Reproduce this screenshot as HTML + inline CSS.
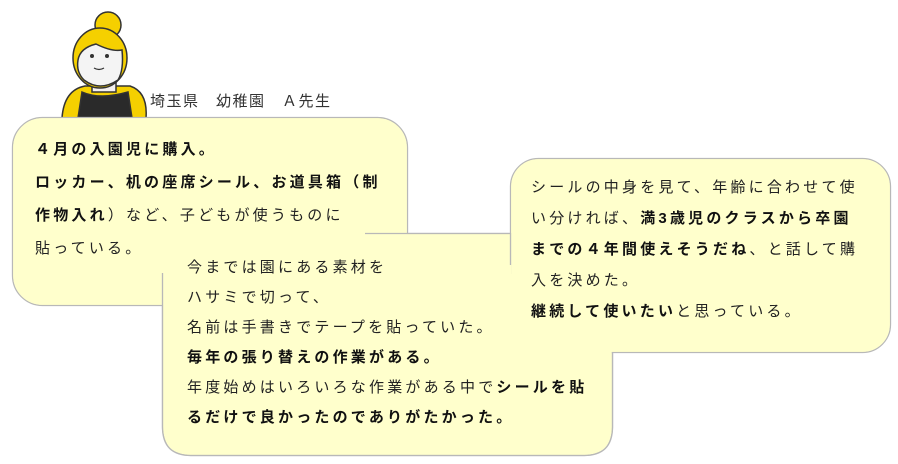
<!DOCTYPE html>
<html><head><meta charset="utf-8"><style>
html,body{margin:0;padding:0;background:#fff;}
body{width:898px;height:464px;position:relative;overflow:hidden;font-family:"Liberation Sans","Noto Sans CJK JP",sans-serif;color:#222;}
.t{position:absolute;font-size:15px;letter-spacing:3.2px;white-space:nowrap;}
b{font-weight:bold;color:#111;}
</style></head><body>
<svg width="898" height="464" style="position:absolute;left:0;top:0">
  <g stroke="#333" stroke-width="1.5">
    <circle cx="108" cy="25" r="13" fill="#f5d000"/>
    <path d="M62 118 Q64 90 85 86 L130 86 Q148 92 146 118 Z" fill="#f5d000"/>
    <path d="M78 118 L82 92 Q100 100 128 92 L132 118 Z" fill="#2a2a2a"/>
    <path d="M92 80 L92 92 L116 92 L116 80 Z" fill="#f4f0f0"/>
    <ellipse cx="100" cy="58" rx="27" ry="30" fill="#f5d000"/>
    <path d="M78 60 Q80 48 96 44 Q112 52 122 50 Q124 70 118 80 Q100 92 84 80 Q76 72 78 60 Z" fill="#f4f4f4"/>
  </g>
  <circle cx="92" cy="56" r="2" fill="#333"/><circle cx="107" cy="56" r="2" fill="#333"/>
  <path d="M94 68 Q99 71 104 68" stroke="#333" fill="none" stroke-width="1.2"/>
  <g fill="#ffffcc" stroke="#b8b8b8" stroke-width="1.3">
    <rect x="12.5" y="117.5" width="395" height="188" rx="30"/>
    <rect x="162.5" y="233.5" width="450" height="222" rx="28"/>
    <rect x="510.5" y="158.5" width="380" height="194" rx="28"/>
  </g>
  <g fill="#ffffcc">
    <rect x="13.2" y="118.2" width="393.6" height="186.6" rx="29"/>
    <rect x="511.2" y="159.2" width="378.6" height="192.6" rx="27"/>
    <path d="M163.2 274 L611.8 274 L611.8 427 Q611.8 454.8 584 454.8 L191 454.8 Q163.2 454.8 163.2 427 Z"/>
    <rect x="365" y="234.2" width="146" height="41"/>
  </g>
  <g stroke="#b8b8b8" stroke-width="1.3" fill="none">
    <path d="M365 233.5 L510.5 233.5 L510.5 265"/>
    <path d="M162.5 273 L162.5 427 Q162.5 455.5 191 455.5 L584 455.5 Q612.5 455.5 612.5 427 L612.5 352"/>
  </g>
</svg>
<div class="t" style="left:150px;top:90px;font-size:15px;letter-spacing:1.5px;color:#333">埼玉県　幼稚園　Ａ先生</div>
<div class="t" style="left:35px;top:133px;line-height:33px"><b>４月の入園児に購入。</b><br><b>ロッカー、机の座席シール、お道具箱（制</b><br><b>作物入れ</b>）など、子どもが使うものに<br>貼っている。</div>
<div class="t" style="left:187px;top:253px;line-height:30px">今までは園にある素材を<br>ハサミで切って、<br>名前は手書きでテープを貼っていた。<br><b>毎年の張り替えの作業がある。</b><br>年度始めはいろいろな作業がある中で<b>シールを貼</b><br><b>るだけで良かったのでありがたかった。</b></div>
<div class="t" style="left:531px;top:172px;line-height:31px">シールの中身を見て、年齢に合わせて使<br>い分ければ、<b>満3歳児のクラスから卒園</b><br><b>までの４年間使えそうだね</b>、と話して購<br>入を決めた。<br><b>継続して使いたい</b>と思っている。</div>
</body></html>
